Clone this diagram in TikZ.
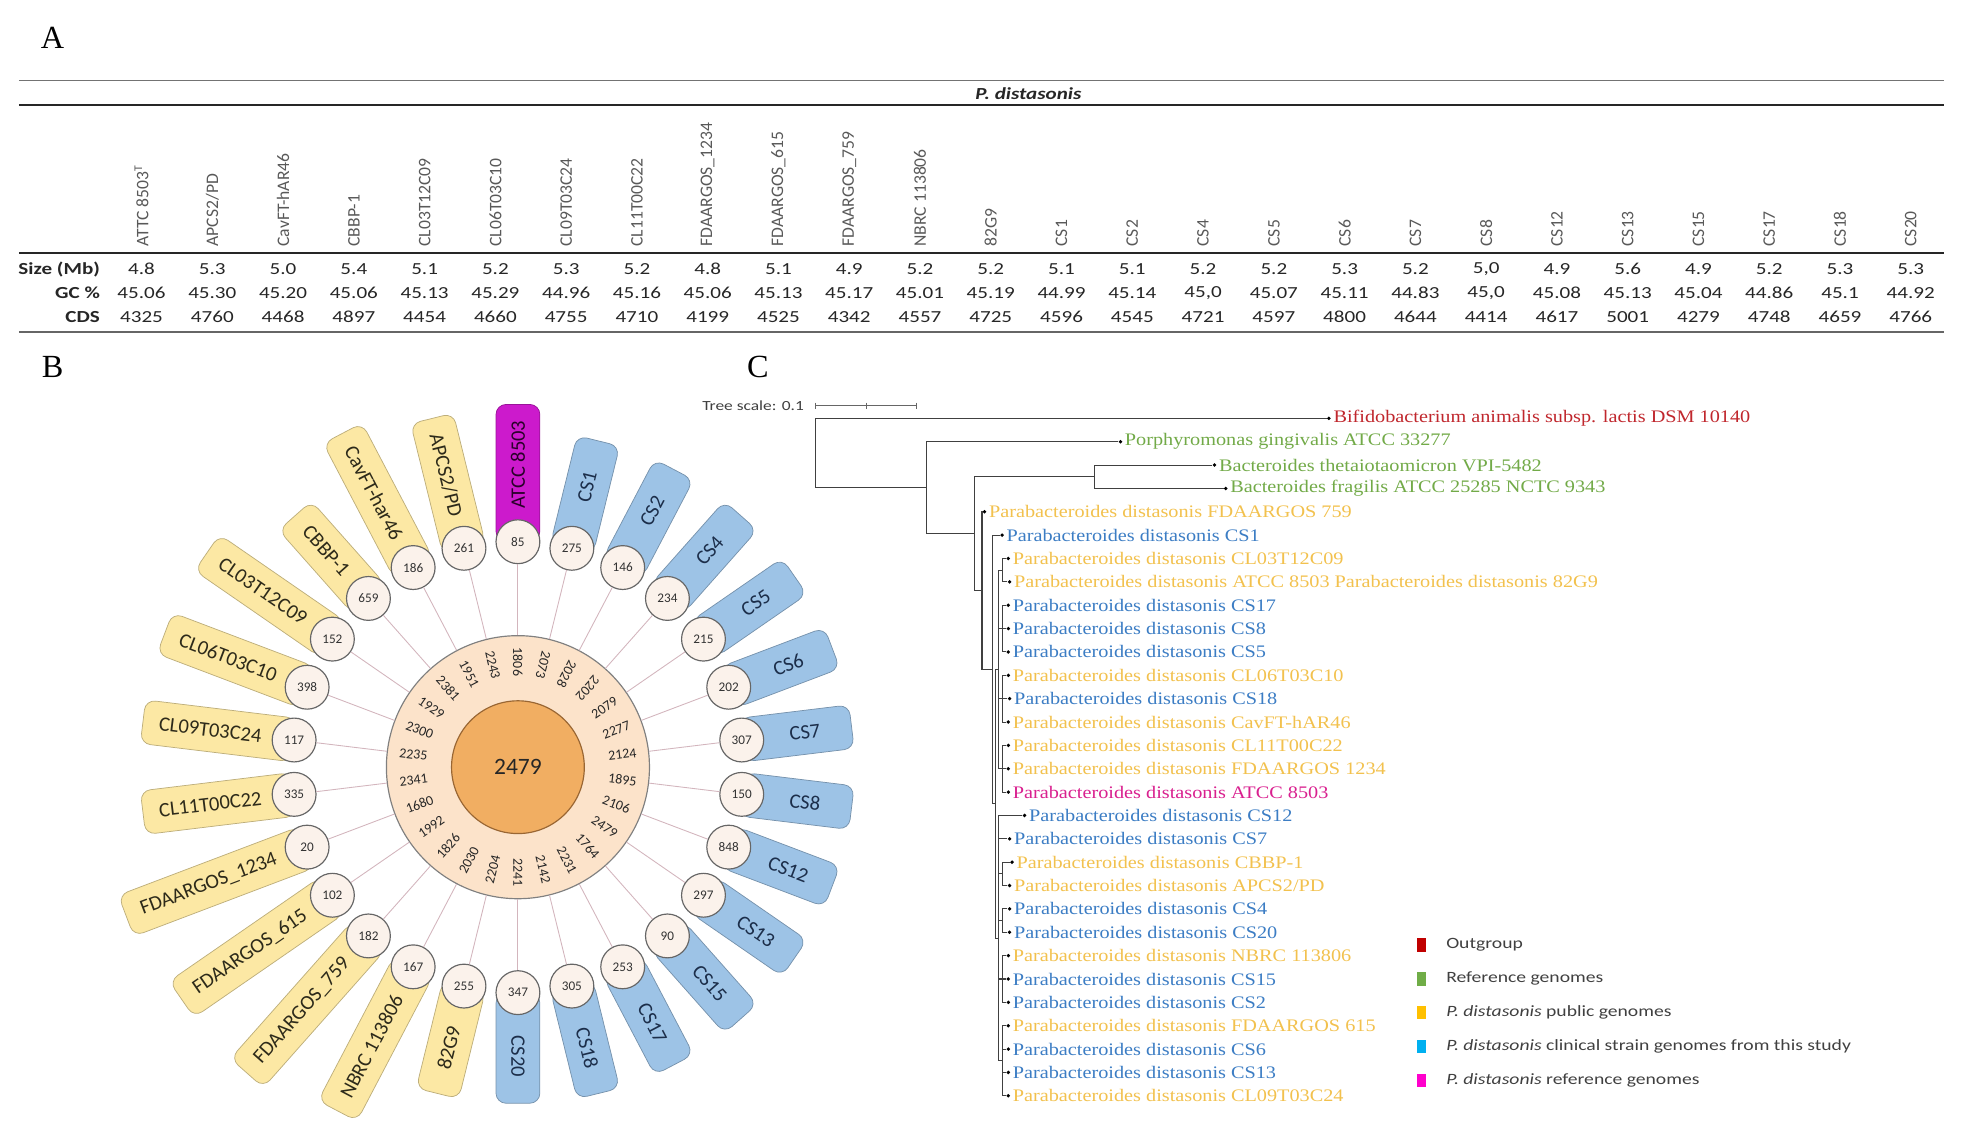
\documentclass[tikz,border=0pt]{standalone}
\usepackage{fontspec}
\setmainfont{Liberation Serif}
\newfontfamily\tabfont[FakeStretch=1.25]{Carlito}
\newfontfamily\boxfont{Carlito}
\newfontfamily\treefont[FakeStretch=1.15]{Liberation Serif}
\definecolor{petyel}{HTML}{FCE8A4}
\definecolor{petblue}{HTML}{9DC3E6}
\definecolor{petmag}{HTML}{CC1ACC}
\definecolor{bluetxt}{HTML}{1C2E4A}
\definecolor{yeltxt}{HTML}{2D2A1A}
\definecolor{magtxt}{HTML}{2A002A}
\definecolor{cntfill}{HTML}{FBF2EB}
\definecolor{ringfill}{HTML}{FCE3CA}
\definecolor{corefill}{HTML}{F1AE62}
\definecolor{spokecol}{HTML}{D3B5BD}
\definecolor{treered}{HTML}{C0272D}
\definecolor{treegreen}{HTML}{72AA48}
\definecolor{treeyel}{HTML}{F2C14E}
\definecolor{treeblue}{HTML}{3C7DC4}
\definecolor{treemag}{HTML}{D9208F}
\definecolor{legred}{HTML}{C00000}
\definecolor{leggreen}{HTML}{70AD47}
\definecolor{legyel}{HTML}{FFC000}
\definecolor{legcyan}{HTML}{00B0F0}
\definecolor{legmag}{HTML}{FF00CC}
\begin{document}
\begin{tikzpicture}[x=0.3mm, y=0.3mm,
  panel/.style={font=\fontsize{22}{22}\selectfont, inner sep=0pt},
  hdr/.style={font=\boxfont\fontsize{12}{12}\selectfont, text=black!65, rotate=90, anchor=west, inner sep=0pt},
  val/.style={font=\tabfont\fontsize{11.5}{12}\selectfont, text=black!85, inner sep=0pt},
  rowlab/.style={font=\tabfont\bfseries\fontsize{11.5}{12}\selectfont, text=black!85, anchor=east, inner sep=0pt},
  petal/.style={fill=#1, draw=#1!75!black, line width=0.5pt, rounded corners=2.4mm, minimum height=10.5mm, minimum width=26.4mm, inner xsep=3.9mm, inner ysep=0pt, font=\boxfont\fontsize{14}{14}\selectfont},
  petlab/.style={font=\boxfont\fontsize{14}{14}\selectfont, inner sep=0pt},
  cnt/.style={circle, fill=cntfill, draw=black!60, line width=0.8pt, minimum size=10.5mm, inner sep=0pt, font=\boxfont\fontsize{9}{9}\selectfont, text=black!80},
  ringnum/.style={font=\boxfont\fontsize{9.5}{9.5}\selectfont, text=black!85, inner sep=0pt},
  spoke/.style={draw=spokecol, line width=0.6pt},
  branch/.style={draw=black!75, line width=0.7pt},
  tip/.style={circle, fill=black, inner sep=0pt, minimum size=0.9mm},
  leaf/.style={text=#1, font=\treefont\fontsize{12}{12}\selectfont, anchor=west, inner sep=0pt},
  legsq/.style={fill=#1, minimum width=2.3mm, minimum height=3.2mm, inner sep=0pt},
  legtxt/.style={font=\tabfont\fontsize{10.7}{11}\selectfont, text=black!75, anchor=west, inner sep=0pt}
]
\useasboundingbox (0,0) rectangle (1568,-913);

\node[panel] (lblA) at (42,-30) {A};
\node[panel] (lblB) at (42,-293) {B};
\node[panel] (lblC) at (605,-293) {C};

\draw[black!55, line width=0.6pt] (15,-64) -- (1552,-64);
\draw[black!85, line width=1.6pt] (15,-84) -- (1552,-84);
\draw[black!85, line width=1.8pt] (15,-202) -- (1552,-202);
\draw[black!60, line width=1.2pt] (15,-265) -- (1552,-265);
\node[font=\tabfont\bfseries\itshape\fontsize{11.5}{12}\selectfont, text=black!85] (title) at (821,-74.5) {P. distasonis};

\foreach \h [count=\k from 0] in {ATTC 8503\textsuperscript{T}, APCS2/PD, CavFT-hAR46, CBBP-1, CL03T12C09, CL06T03C10, CL09T03C24, CL11T00C22, FDAARGOS\_1234, FDAARGOS\_615, FDAARGOS\_759, NBRC 113806, 82G9, CS1, CS2, CS4, CS5, CS6, CS7, CS8, CS12, CS13, CS15, CS17, CS18, CS20}
  \node[hdr] (h\k) at ({113+56.5*\k},-197) {\h};

\node[rowlab] (rsize) at (80,-215) {Size (Mb)};
\node[rowlab] (rgc) at (80,-234) {GC \%};
\node[rowlab] (rcds) at (80,-253) {CDS};
\foreach \v [count=\k from 0] in {4.8, 5.3, 5.0, 5.4, 5.1, 5.2, 5.3, 5.2, 4.8, 5.1, 4.9, 5.2, 5.2, 5.1, 5.1, 5.2, 5.2, 5.3, 5.2, {5,0}, 4.9, 5.6, 4.9, 5.2, 5.3, 5.3}
  \node[val] (s\k) at ({113+56.5*\k},-215) {\v};
\foreach \v [count=\k from 0] in {45.06, 45.30, 45.20, 45.06, 45.13, 45.29, 44.96, 45.16, 45.06, 45.13, 45.17, 45.01, 45.19, 44.99, 45.14, {45,0}, 45.07, 45.11, 44.83, {45,0}, 45.08, 45.13, 45.04, 44.86, 45.1, 44.92}
  \node[val] (g\k) at ({113+56.5*\k},-234) {\v};
\foreach \v [count=\k from 0] in {4325, 4760, 4468, 4897, 4454, 4660, 4755, 4710, 4199, 4525, 4342, 4557, 4725, 4596, 4545, 4721, 4597, 4800, 4644, 4414, 4617, 5001, 4279, 4748, 4659, 4766}
  \node[val] (d\k) at ({113+56.5*\k},-253) {\v};

\node[circle, fill=ringfill, draw=black!50, line width=0.8pt, minimum size=63mm, inner sep=0pt] (ring) at (413.5,-612.5) {};
\node[circle, fill=corefill, draw=brown!80!black, line width=0.8pt, minimum size=31.8mm, inner sep=0pt, font=\boxfont\fontsize{16}{16}\selectfont, text=black!85] (core) at (ring.center) {2479};

\foreach \i/\lab/\n/\r/\col/\tc in {
  0/ATCC 8503/85/1806/petmag/magtxt,
  1/CS1/275/2073/petblue/bluetxt,
  2/CS2/146/2028/petblue/bluetxt,
  3/CS4/234/2202/petblue/bluetxt,
  4/CS5/215/2079/petblue/bluetxt,
  5/CS6/202/2277/petblue/bluetxt,
  6/CS7/307/2124/petblue/bluetxt,
  7/CS8/150/1895/petblue/bluetxt,
  8/CS12/848/2106/petblue/bluetxt,
  9/CS13/297/2479/petblue/bluetxt,
  10/CS15/90/1764/petblue/bluetxt,
  11/CS17/253/2231/petblue/bluetxt,
  12/CS18/305/2142/petblue/bluetxt,
  13/CS20/347/2241/petblue/bluetxt,
  14/82G9/255/2204/petyel/yeltxt,
  15/NBRC 113806/167/2030/petyel/yeltxt,
  16/FDAARGOS\_759/182/1826/petyel/yeltxt,
  17/FDAARGOS\_615/102/1992/petyel/yeltxt,
  18/FDAARGOS\_1234/20/1680/petyel/yeltxt,
  19/CL11T00C22/335/2341/petyel/yeltxt,
  20/CL09T03C24/117/2235/petyel/yeltxt,
  21/CL06T03C10/398/2300/petyel/yeltxt,
  22/CL03T12C09/152/1929/petyel/yeltxt,
  23/CBBP-1/659/2381/petyel/yeltxt,
  24/CavFT-har46/186/1951/petyel/yeltxt,
  25/{APCS2/PD}/261/2243/petyel/yeltxt}{
  \pgfmathsetmacro\ph{90-\i*360/26}
  \path (ring.center) ++(\ph:180) coordinate (p\i);
  \ifnum\i<14
    \node[petal=\col, rotate=\ph, anchor=west] (b\i) at (p\i) {\hspace*{3.9mm}\phantom{\lab}};
    \node[petlab, text=\tc, rotate=\ph] (w\i) at ([shift={(\ph:1.95mm)}]b\i.center) {\lab};
  \else
    \pgfmathsetmacro\pf{\ph+180}
    \node[petal=\col, rotate=\pf, anchor=east] (b\i) at (p\i) {\phantom{\lab}\hspace*{3.9mm}};
    \node[petlab, text=\tc, rotate=\pf] (w\i) at ([shift={(\ph:1.95mm)}]b\i.center) {\lab};
  \fi
  \node[cnt] (c\i) at (p\i) {\n};
  \draw[spoke] (ring) -- (c\i);
  \ifnum\i<4 \pgfmathsetmacro\rd{\ph+180}\else\ifnum\i<14 \pgfmathsetmacro\rd{\ph}\else\pgfmathsetmacro\rd{\ph+180}\fi\fi
  \path (ring.center) ++(\ph:84) node[ringnum, rotate=\rd] (q\i) {\r};
}

\node[font=\tabfont\fontsize{9.5}{10}\selectfont, text=black!75, anchor=east, inner sep=0pt] (scl) at (642,-324) {Tree scale: 0.1};
\draw[black!60, line width=0.6pt] (651,-324) -- (732,-324);
\foreach \sx in {651, 691.5, 732}
  \draw[black!60, line width=0.6pt] (\sx,-321.5) -- (\sx,-326.5);

\coordinate (r0) at (651,-361.7);
\coordinate (n1) at (740,-389.4);
\coordinate (n2) at (778,-426.1);
\coordinate (nb) at (873.6,-380.6);
\coordinate (p1) at (784,-471.6);
\coordinate (p2) at (792,-534.5);
\coordinate (p3) at (794.5,-641.8);
\coordinate (pa) at (797,-534.5);
\coordinate (a1) at (800,-455.2);
\coordinate (a2) at (800,-501.85);
\coordinate (a3) at (800,-557.8);
\coordinate (a4) at (800,-613.75);
\coordinate (pb) at (797,-749);
\coordinate (b1) at (800,-697.7);
\coordinate (b2) at (800,-735);
\coordinate (b3) at (800,-781.6);
\coordinate (b4) at (800,-846.9);
\draw[branch] (r0) |- (n1);
\draw[branch] (n1) |- (n2);
\draw[branch] (n2) |- (nb);
\draw[branch] (n2) |- (p1);
\draw[branch] (p1) |- (p2);
\draw[branch] (p2) |- (p3);
\draw[branch] (p3) |- (pa);
\draw[branch] (p3) |- (pb);
\foreach \c in {a1, a2, a3, a4}
  \draw[branch] (pa) |- (\c);
\foreach \c in {b1, b2, b3, b4}
  \draw[branch] (pb) |- (\c);

\foreach \k/\up/\tx/\col/\lab in {
  1/r0/1061/treered/Bifidobacterium animalis subsp. lactis DSM 10140,
  2/n1/894.5/treegreen/Porphyromonas gingivalis ATCC 33277,
  3/nb/969.6/treegreen/Bacteroides thetaiotaomicron VPI-5482,
  4/nb/978.6/treegreen/Bacteroides fragilis ATCC 25285 NCTC 9343,
  5/p1/786/treeyel/Parabacteroides distasonis FDAARGOS 759,
  6/p2/800/treeblue/Parabacteroides distasonis CS1,
  7/a1/805/treeyel/Parabacteroides distasonis CL03T12C09,
  8/a1/806/treeyel/Parabacteroides distasonis ATCC 8503 Parabacteroides distasonis 82G9,
  9/a2/805/treeblue/Parabacteroides distasonis CS17,
  10/a2/805/treeblue/Parabacteroides distasonis CS8,
  11/a2/805/treeblue/Parabacteroides distasonis CS5,
  12/a3/805/treeyel/Parabacteroides distasonis CL06T03C10,
  13/a3/806/treeblue/Parabacteroides distasonis CS18,
  14/a3/805/treeyel/Parabacteroides distasonis CavFT-hAR46,
  15/a4/805/treeyel/Parabacteroides distasonis CL11T00C22,
  16/a4/805/treeyel/Parabacteroides distasonis FDAARGOS 1234,
  17/a4/805/treemag/Parabacteroides distasonis ATCC 8503,
  18/pb/818/treeblue/Parabacteroides distasonis CS12,
  19/pb/806/treeblue/Parabacteroides distasonis CS7,
  20/b1/808/treeyel/Parabacteroides distasonis CBBP-1,
  21/b1/806/treeyel/{Parabacteroides distasonis APCS2/PD},
  22/b2/806/treeblue/Parabacteroides distasonis CS4,
  23/b2/806/treeblue/Parabacteroides distasonis CS20,
  24/b3/805/treeyel/Parabacteroides distasonis NBRC 113806,
  25/b3/805/treeblue/Parabacteroides distasonis CS15,
  26/b3/805/treeblue/Parabacteroides distasonis CS2,
  27/b4/805/treeyel/Parabacteroides distasonis FDAARGOS 615,
  28/b4/805/treeblue/Parabacteroides distasonis CS6,
  29/b4/805/treeblue/Parabacteroides distasonis CS13,
  30/b4/805/treeyel/Parabacteroides distasonis CL09T03C24}{
  \pgfmathsetmacro\ty{-(334+18.65*(\k-1))}
  \node[tip] (t\k) at (\tx,\ty) {};
  \draw[branch] (\up) |- (t\k);
  \node[leaf=\col] (l\k) at ([xshift=0.5mm]t\k.east) {\lab};
}

\foreach \j/\c/\t in {
  1/legred/Outgroup,
  2/leggreen/Reference genomes,
  3/legyel/{\textit{P. distasonis} public genomes},
  4/legcyan/{\textit{P. distasonis} clinical strain genomes from this study},
  5/legmag/{\textit{P. distasonis} reference genomes}}{
  \pgfmathsetmacro\ly{-(754.4+27.1*(\j-1))}
  \node[legsq=\c] (lg\j) at (1135,\ly) {};
  \node[legtxt] (lt\j) at ([xshift=4.6mm]lg\j.east) {\t};
}
\end{tikzpicture}
\end{document}
